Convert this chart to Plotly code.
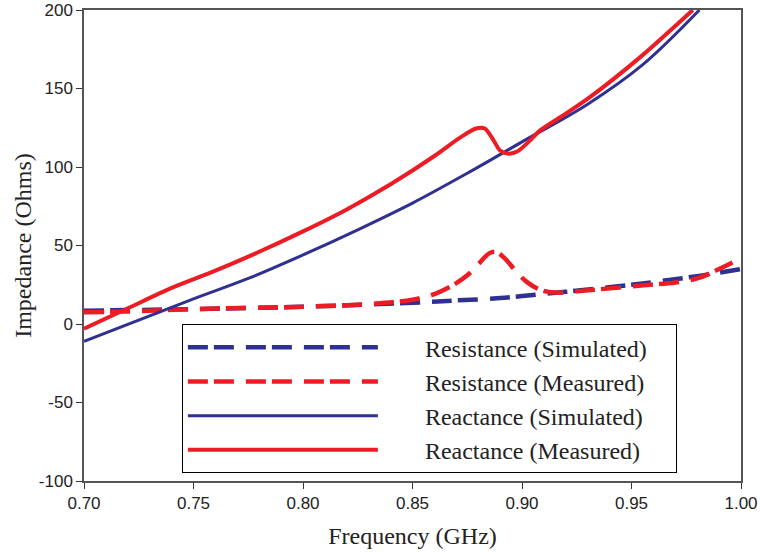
import plotly.graph_objects as go

# ---- data ----
f_rs = [0.70, 0.75, 0.80, 0.85, 0.87, 0.89, 0.905, 0.92, 0.95, 0.98, 1.00]
r_sim = [8.5, 9.5, 11.0, 13.5, 15.0, 16.5, 18.5, 20.5, 25.0, 30.5, 35.0]

f_rm = [0.70, 0.72, 0.75, 0.80, 0.83, 0.85, 0.86, 0.87, 0.875, 0.88, 0.885, 0.888,
        0.892, 0.897, 0.902, 0.908, 0.915, 0.93, 0.95, 0.97, 0.98, 0.99, 1.00]
r_meas = [7.5, 8.0, 9.5, 11.0, 12.7, 15.5, 19.0, 26.0, 31.0, 38.0, 45.0, 46.0,
          42.0, 34.0, 27.0, 22.0, 20.0, 21.5, 24.0, 26.5, 29.0, 35.0, 42.0]

f_xs = [0.70, 0.75, 0.775, 0.80, 0.825, 0.85, 0.875, 0.90, 0.93, 0.955, 0.981]
x_sim = [-11.0, 16.0, 29.0, 44.0, 60.0, 77.0, 96.0, 116.0, 140.0, 165.0, 200.0]

f_xm = [0.70, 0.72, 0.74, 0.76, 0.78, 0.80, 0.82, 0.84, 0.86, 0.872, 0.879,
        0.883, 0.887, 0.890, 0.894, 0.898, 0.903, 0.908, 0.92, 0.931, 0.954, 0.978]
x_meas = [-3.0, 10.0, 23.0, 34.0, 46.0, 59.0, 73.0, 89.0, 107.0, 119.0, 124.5,
          124.5, 117.0, 110.5, 108.5, 110.0, 116.0, 123.0, 134.0, 144.5, 170.0, 200.0]

x_ticks = [0.70, 0.75, 0.80, 0.85, 0.90, 0.95, 1.00]
x_ticklabels = ["0.70", "0.75", "0.80", "0.85", "0.90", "0.95", "1.00"]
y_ticks = [-100, -50, 0, 50, 100, 150, 200]
y_ticklabels = ["-100", "-50", "0", "50", "100", "150", "200"]

names = ["Resistance (Simulated)", "Resistance (Measured)",
         "Reactance (Simulated)", "Reactance (Measured)"]

BLUE = "#2E3192"
RED = "#ED1C24"
DASH = "20px,6px,20px,12px"
PAD = "\u00a0" * 7
TAIL = "\u00a0" * 4

fig = go.Figure()
fig.add_trace(go.Scatter(x=f_rs, y=r_sim, mode="lines", name=PAD + names[0] + TAIL,
                         line=dict(color=BLUE, width=4.5, dash=DASH, shape="spline")))
fig.add_trace(go.Scatter(x=f_rm, y=r_meas, mode="lines", name=PAD + names[1] + TAIL,
                         line=dict(color=RED, width=4.5, dash=DASH, shape="spline")))
fig.add_trace(go.Scatter(x=f_xs, y=x_sim, mode="lines", name=PAD + names[2] + TAIL,
                         line=dict(color=BLUE, width=3, shape="spline")))
fig.add_trace(go.Scatter(x=f_xm, y=x_meas, mode="lines", name=PAD + names[3] + TAIL,
                         line=dict(color=RED, width=4, shape="spline", smoothing=0.8)))

axis_common = dict(showgrid=False, zeroline=False, showline=True, linecolor="#555555",
                   linewidth=1.5, mirror=True, ticks="outside", ticklen=6, tickwidth=1,
                   tickcolor="#333333", automargin=False,
                   tickfont=dict(family="Liberation Sans, Arial, sans-serif", size=17, color="#222222"))

serif = "Liberation Serif, Times New Roman, serif"
fig.update_xaxes(range=[0.70, 1.00], tickvals=x_ticks, ticktext=x_ticklabels,
                 title=dict(text="Frequency (GHz)", standoff=15,
                            font=dict(family=serif, size=24, color="#222222")),
                 **axis_common)
fig.update_yaxes(range=[-100, 200], tickvals=y_ticks, ticktext=y_ticklabels,
                 title=dict(text="Impedance (Ohms)", standoff=0,
                            font=dict(family=serif, size=24, color="#222222")),
                 **axis_common)

fig.update_layout(
    width=760, height=554,
    margin=dict(l=84, r=19, t=10, b=73),
    paper_bgcolor="white", plot_bgcolor="white",
    showlegend=True,
    legend=dict(x=0.149, y=0.333, xanchor="left", yanchor="top",
                bgcolor="white", bordercolor="black", borderwidth=1,
                itemwidth=190,
                font=dict(family=serif, size=24, color="#222222")),
)

fig.write_html("out.html", config={"displayModeBar": False},
               post_script="document.body.style.margin='0';document.body.style.overflow='hidden';")
